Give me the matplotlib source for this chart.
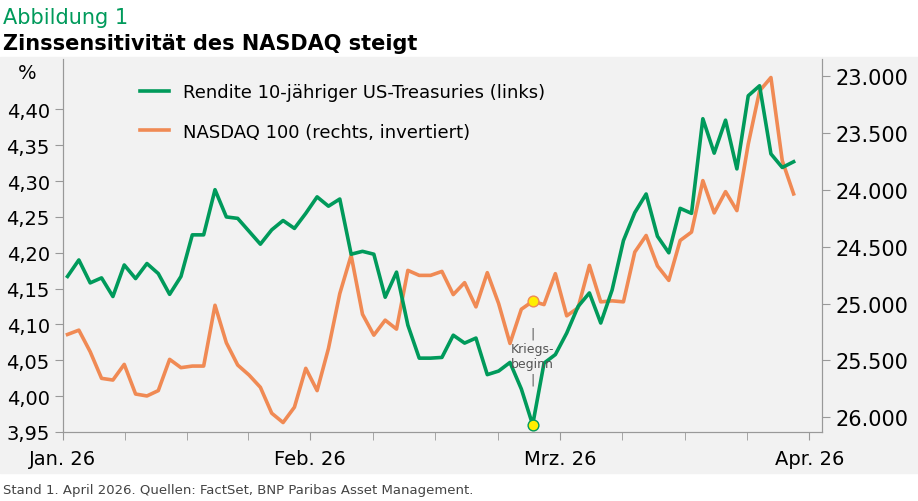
import numpy as np
import matplotlib.pyplot as plt
from matplotlib.patches import Rectangle

# Renditen 10J US-Treasuries (%), Handelstage Jan-Mrz 2026
rendite = [4.167, 4.190, 4.158, 4.165, 4.139, 4.183, 4.164, 4.185, 4.171, 4.142,
           4.167, 4.225, 4.225, 4.288, 4.250, 4.248, 4.230, 4.212, 4.232, 4.245,
           4.234, 4.255, 4.278, 4.265, 4.275, 4.198, 4.202, 4.198, 4.138, 4.173,
           4.099, 4.053, 4.053, 4.054, 4.085, 4.074, 4.081, 4.030, 4.035, 4.047,
           4.010, 3.960, 4.046, 4.058, 4.088, 4.125, 4.144, 4.102, 4.148, 4.217,
           4.256, 4.282, 4.223, 4.200, 4.262, 4.255, 4.387, 4.339, 4.385, 4.317,
           4.419, 4.433, 4.338, 4.319, 4.327]
# NASDAQ 100 (rechte Achse, invertiert)
nasdaq = [25272, 25234, 25424, 25658, 25673, 25535, 25796, 25813, 25766, 25491,
          25564, 25550, 25550, 25015, 25345, 25541, 25629, 25737, 25965, 26047,
          25912, 25570, 25766, 25395, 24912, 24576, 25094, 25278, 25146, 25225,
          24708, 24752, 24752, 24717, 24921, 24816, 25029, 24728, 25000, 25351,
          25050, 24980, 25009, 24737, 25108, 25038, 24664, 24985, 24976, 24985,
          24547, 24401, 24669, 24796, 24445, 24371, 23918, 24202, 24015, 24182,
          23597, 23129, 23011, 23743, 24035]
krieg_idx = 41
monat_labels = ['Jan. 26', 'Feb. 26', 'Mrz. 26', 'Apr. 26']
monat_pos = [-0.4, 21.4, 43.4, 65.4]

gruen = '#009a5b'
orange = '#f08a54'
grau_bg = '#f2f2f2'

fig = plt.figure(figsize=(9.18, 5.02), dpi=100)
fig.patches.append(Rectangle((0, 0.055), 1, 0.83, transform=fig.transFigure,
                             color=grau_bg, zorder=-5))

ax = fig.add_axes([0.0686, 0.1375, 0.8268, 0.7425])
x = np.arange(len(rendite))
l1, = ax.plot(x, rendite, color=gruen, lw=2.6, zorder=3)
ax.set_ylim(3.95, 4.47)
ax.set_yticks(np.arange(3.95, 4.41, 0.05))
ax.set_yticklabels([f'{v:.2f}'.replace('.', ',') for v in np.arange(3.95, 4.41, 0.05)])
ax.set_xlim(-0.4, 66.5)
ax.set_xticks(monat_pos)
ax.set_xticklabels(monat_labels)
minor = []
for a, b in zip(monat_pos[:-1], monat_pos[1:]):
    minor += list(np.linspace(a, b, 5)[1:-1])
ax.set_xticks(minor, minor=True)
ax.text(-0.035, 4.451, '%', transform=ax.get_yaxis_transform(), ha='right', va='center', fontsize=14)

ax2 = ax.twinx()
l2, = ax2.plot(x, nasdaq, color=orange, lw=2.6, zorder=2)
ax2.set_ylim(26130, 22850)
ax2.set_yticks(np.arange(23000, 26001, 500))
ax2.set_yticklabels([f'{v:,}'.replace(',', '.') for v in range(23000, 26001, 500)])

# gruene Linie ueber der orangen
ax.set_zorder(ax2.get_zorder() + 1)
ax.patch.set_visible(False)
ax2.set_facecolor(grau_bg)

for a in (ax, ax2):
    for s in a.spines.values():
        s.set_color('#999999')
    a.spines['top'].set_visible(False)
    a.tick_params(which='both', color='#999999', labelsize=14, length=6)
ax.tick_params(axis='x', pad=6)
ax2.tick_params(labelsize=15)

ax.scatter([krieg_idx], [rendite[krieg_idx]], s=60, color='#ffee00', edgecolor=gruen, zorder=5)
ax2.scatter([krieg_idx], [nasdaq[krieg_idx]], s=60, color='#ffee00', edgecolor=orange, zorder=5)
ax.text(krieg_idx, 4.056, '|\nKriegs-\nbeginn\n|', ha='center', va='center',
        fontsize=9, color='#555555', linespacing=1.25, zorder=4)

ax.legend([l1, l2], ['Rendite 10-jähriger US-Treasuries (links)', 'NASDAQ 100 (rechts, invertiert)'],
          loc='upper left', bbox_to_anchor=(0.08, 0.98), frameon=False, fontsize=13,
          handlelength=1.6, labelspacing=1.2)

fig.text(0.003, 0.965, 'Abbildung 1', color=gruen, fontsize=15, va='center')
fig.text(0.003, 0.912, 'Zinssensitivität des NASDAQ steigt', fontsize=15, fontweight='bold', va='center')
fig.text(0.003, 0.022, 'Stand 1. April 2026. Quellen: FactSet, BNP Paribas Asset Management.',
         fontsize=9.5, color='#444444', va='center')

fig.savefig('out.png', dpi=100)
